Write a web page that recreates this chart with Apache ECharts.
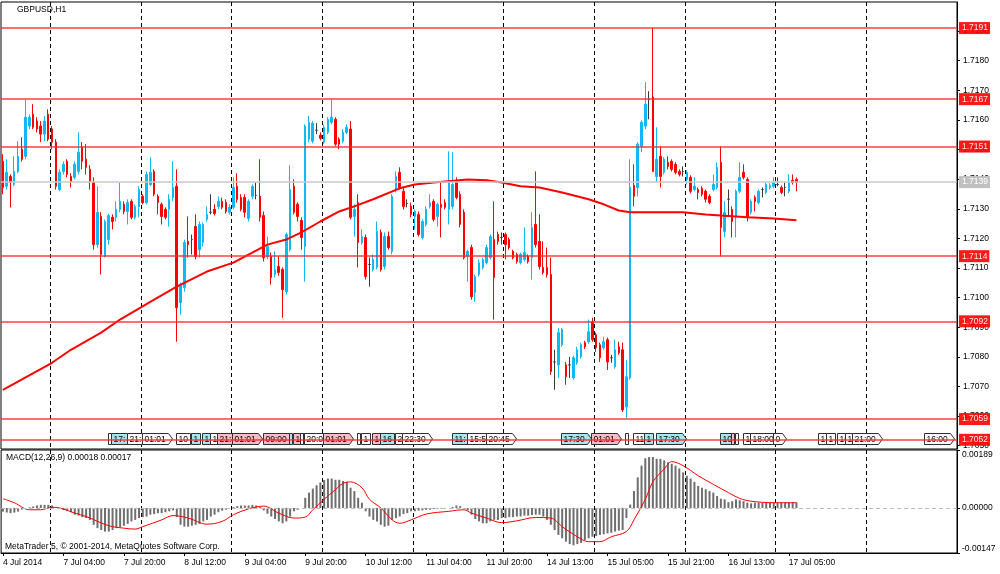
<!DOCTYPE html>
<html><head><meta charset="utf-8">
<script src="https://cdn.jsdelivr.net/npm/echarts@6/dist/echarts.min.js"></script>
<style>html,body{margin:0;padding:0;background:#fff}#c{width:1000px;height:574px}</style>
</head><body><div id="c"></div>
<script>
const FONT = 'Liberation Sans';
const chartTitle = 'GBPUSD,H1';
const macdTitle = 'MACD(12,26,9) 0.00018 0.00017';
const copyright = 'MetaTrader 5, \u00a9 2001-2014, MetaQuotes Software Corp.';

// number of bar slots on the time axis (bars + chart shift)
const slotCount = 253;

// x-axis tick labels: [bar index, text]
const dateTicks = [[0,'4 Jul 2014'],[16,'7 Jul 04:00'],[32,'7 Jul 20:00'],[48,'8 Jul 12:00'],[64,'9 Jul 04:00'],[80,'9 Jul 20:00'],[96,'10 Jul 12:00'],[112,'11 Jul 04:00'],[128,'11 Jul 20:00'],[144,'14 Jul 13:00'],[160,'15 Jul 05:00'],[176,'15 Jul 21:00'],[192,'16 Jul 13:00'],[208,'17 Jul 05:00']];

// H1 candles: [open, close, low, high]
const candles = [
[1.71460,1.71372,1.71349,1.71484],[1.71376,1.71423,1.71365,1.71467],[1.71409,1.71389,1.71305,1.71416],[1.71382,1.71426,1.71376,1.71477],
[1.71426,1.71477,1.71420,1.71528],[1.71501,1.71467,1.71460,1.71541],[1.71477,1.71609,1.71467,1.71670],[1.71579,1.71609,1.71569,1.71619],
[1.71619,1.71575,1.71569,1.71653],[1.71596,1.71569,1.71558,1.71609],[1.71579,1.71552,1.71525,1.71596],[1.71552,1.71596,1.71528,1.71613],
[1.71619,1.71535,1.71528,1.71636],[1.71569,1.71525,1.71501,1.71579],[1.71525,1.71376,1.71365,1.71535],[1.71365,1.71423,1.71359,1.71433],
[1.71426,1.71450,1.71416,1.71460],[1.71460,1.71416,1.71406,1.71467],[1.71409,1.71393,1.71372,1.71420],[1.71406,1.71450,1.71399,1.71460],
[1.71426,1.71491,1.71416,1.71558],[1.71508,1.71460,1.71433,1.71525],[1.71467,1.71440,1.71416,1.71518],[1.71433,1.71393,1.71365,1.71447],
[1.71389,1.71179,1.71162,1.71406],[1.71179,1.71288,1.71169,1.71376],[1.71274,1.71146,1.71078,1.71288],[1.71139,1.71257,1.71135,1.71264],
[1.71196,1.71277,1.71179,1.71284],[1.71271,1.71257,1.71230,1.71281],[1.71271,1.71298,1.71257,1.71325],[1.71298,1.71325,1.71288,1.71389],
[1.71315,1.71291,1.71281,1.71325],[1.71291,1.71321,1.71247,1.71332],[1.71325,1.71271,1.71264,1.71332],[1.71271,1.71308,1.71264,1.71315],
[1.71308,1.71365,1.71271,1.71376],[1.71342,1.71321,1.71315,1.71349],[1.71321,1.71416,1.71315,1.71426],[1.71382,1.71423,1.71376,1.71474],
[1.71426,1.71349,1.71342,1.71433],[1.71342,1.71321,1.71281,1.71349],[1.71315,1.71274,1.71247,1.71321],[1.71298,1.71271,1.71264,1.71305],
[1.71298,1.71332,1.71240,1.71349],[1.71338,1.71372,1.71325,1.71460],[1.71376,1.70966,1.70851,1.71433],[1.70983,1.71044,1.70942,1.71051],
[1.71034,1.71186,1.71020,1.71196],[1.71190,1.71179,1.71135,1.71274],[1.71196,1.71196,1.71146,1.71213],[1.71240,1.71139,1.71129,1.71281],
[1.71162,1.71247,1.71135,1.71257],[1.71186,1.71247,1.71173,1.71254],[1.71264,1.71281,1.71257,1.71308],[1.71288,1.71288,1.71281,1.71349],
[1.71298,1.71284,1.71277,1.71315],[1.71308,1.71325,1.71298,1.71342],[1.71325,1.71305,1.71298,1.71338],[1.71321,1.71291,1.71284,1.71332],
[1.71288,1.71305,1.71281,1.71315],[1.71305,1.71372,1.71298,1.71406],[1.71376,1.71332,1.71321,1.71420],[1.71338,1.71298,1.71291,1.71349],
[1.71338,1.71288,1.71271,1.71349],[1.71267,1.71325,1.71257,1.71332],[1.71342,1.71376,1.71332,1.71382],[1.71345,1.71345,1.71332,1.71389],
[1.71342,1.71271,1.71257,1.71467],[1.71277,1.71135,1.71122,1.71291],[1.71139,1.71173,1.71129,1.71206],[1.71139,1.71068,1.71044,1.71152],
[1.71078,1.71095,1.71068,1.71156],[1.71105,1.71085,1.71074,1.71139],[1.71095,1.71027,1.70932,1.71102],[1.71020,1.71213,1.71010,1.71220],
[1.71162,1.71365,1.71156,1.71447],[1.71376,1.71288,1.71281,1.71399],[1.71315,1.71274,1.71257,1.71321],[1.71261,1.71203,1.71162,1.71271],
[1.71173,1.71579,1.71054,1.71585],[1.71535,1.71592,1.71525,1.71613],[1.71528,1.71589,1.71521,1.71596],[1.71565,1.71565,1.71552,1.71589],
[1.71548,1.71538,1.71531,1.71558],[1.71525,1.71575,1.71518,1.71585],[1.71558,1.71602,1.71552,1.71609],[1.71592,1.71609,1.71585,1.71670],
[1.71602,1.71518,1.71511,1.71609],[1.71535,1.71518,1.71501,1.71541],[1.71528,1.71558,1.71521,1.71569],[1.71558,1.71575,1.71552,1.71585],
[1.71569,1.71271,1.71264,1.71596],[1.71274,1.71298,1.71206,1.71315],[1.71321,1.71186,1.71102,1.71349],[1.71186,1.71206,1.71179,1.71230],
[1.71203,1.71071,1.71061,1.71213],[1.71112,1.71112,1.71037,1.71135],[1.71095,1.71129,1.71088,1.71146],[1.71102,1.71223,1.71095,1.71257],
[1.71220,1.71095,1.71088,1.71230],[1.71105,1.71206,1.71095,1.71220],[1.71206,1.71169,1.71162,1.71223],[1.71156,1.71342,1.71146,1.71349],
[1.71365,1.71409,1.71355,1.71426],[1.71423,1.71372,1.71365,1.71440],[1.71359,1.71308,1.71298,1.71372],[1.71318,1.71318,1.71305,1.71332],
[1.71308,1.71281,1.71271,1.71321],[1.71274,1.71291,1.71230,1.71298],[1.71281,1.71213,1.71206,1.71291],[1.71203,1.71257,1.71196,1.71264],
[1.71247,1.71298,1.71240,1.71308],[1.71308,1.71321,1.71301,1.71349],[1.71325,1.71264,1.71257,1.71332],[1.71274,1.71315,1.71240,1.71321],
[1.71315,1.71305,1.71203,1.71393],[1.71321,1.71305,1.71298,1.71332],[1.71298,1.71393,1.71247,1.71494],[1.71308,1.71382,1.71298,1.71491],
[1.71393,1.71338,1.71332,1.71406],[1.71349,1.71247,1.71237,1.71359],[1.71288,1.71135,1.71129,1.71298],[1.71139,1.71156,1.71054,1.71162],
[1.71169,1.71003,1.70993,1.71179],[1.71017,1.71071,1.70986,1.71078],[1.71078,1.71118,1.71071,1.71129],[1.71102,1.71129,1.71095,1.71135],
[1.71118,1.71169,1.71112,1.71179],[1.71135,1.71206,1.71129,1.71213],[1.71196,1.71068,1.70926,1.71325],[1.71213,1.71190,1.71179,1.71223],
[1.71203,1.71203,1.71179,1.71220],[1.71213,1.71179,1.71129,1.71220],[1.71196,1.71169,1.71162,1.71203],[1.71156,1.71135,1.71129,1.71162],
[1.71146,1.71122,1.71115,1.71152],[1.71118,1.71146,1.71112,1.71152],[1.71129,1.71152,1.71122,1.71237],[1.71139,1.71122,1.71115,1.71146],
[1.71135,1.71237,1.71061,1.71288],[1.71247,1.71179,1.71169,1.71426],[1.71190,1.71105,1.71095,1.71281],[1.71102,1.71085,1.71078,1.71190],
[1.71102,1.71078,1.71068,1.71169],[1.71078,1.70750,1.70739,1.71135],[1.70783,1.70783,1.70689,1.70824],[1.70773,1.70882,1.70729,1.70898],
[1.70841,1.70892,1.70834,1.70898],[1.70773,1.70733,1.70706,1.70783],[1.70773,1.70773,1.70729,1.70800],[1.70729,1.70797,1.70723,1.70804],
[1.70780,1.70824,1.70773,1.70834],[1.70800,1.70841,1.70794,1.70848],[1.70848,1.70834,1.70827,1.70854],[1.70851,1.70885,1.70844,1.70926],
[1.70919,1.70858,1.70851,1.70932],[1.70875,1.70831,1.70817,1.70882],[1.70841,1.70797,1.70783,1.70848],[1.70831,1.70851,1.70824,1.70868],
[1.70858,1.70783,1.70756,1.70865],[1.70797,1.70797,1.70780,1.70807],[1.70767,1.70824,1.70760,1.70858],[1.70834,1.70814,1.70807,1.70851],
[1.70824,1.70621,1.70614,1.70848],[1.70631,1.70733,1.70594,1.70790],[1.70729,1.71372,1.70723,1.71467],[1.71379,1.71342,1.71308,1.71450],
[1.71372,1.71518,1.71342,1.71525],[1.71511,1.71592,1.71491,1.71599],[1.71579,1.71653,1.71569,1.71728],[1.71670,1.71670,1.71602,1.71697],
[1.71677,1.71426,1.71426,1.71910],[1.71409,1.71467,1.71389,1.71575],[1.71477,1.71409,1.71372,1.71511],[1.71423,1.71467,1.71416,1.71474],
[1.71457,1.71443,1.71433,1.71477],[1.71460,1.71433,1.71426,1.71467],[1.71450,1.71423,1.71416,1.71457],[1.71426,1.71416,1.71409,1.71433],
[1.71426,1.71426,1.71409,1.71443],[1.71399,1.71423,1.71382,1.71430],[1.71406,1.71359,1.71352,1.71413],[1.71365,1.71376,1.71359,1.71406],
[1.71365,1.71355,1.71332,1.71372],[1.71369,1.71349,1.71342,1.71376],[1.71359,1.71332,1.71321,1.71365],[1.71342,1.71321,1.71315,1.71349],
[1.71365,1.71382,1.71359,1.71416],[1.71372,1.71440,1.71365,1.71457],[1.71457,1.71237,1.71139,1.71511],[1.71223,1.71288,1.71203,1.71325],
[1.71332,1.71332,1.71274,1.71365],[1.71298,1.71257,1.71203,1.71308],[1.71274,1.71359,1.71203,1.71365],[1.71359,1.71406,1.71352,1.71457],
[1.71423,1.71406,1.71399,1.71450],[1.71399,1.71274,1.71257,1.71406],[1.71288,1.71325,1.71281,1.71332],[1.71338,1.71325,1.71291,1.71345],
[1.71321,1.71359,1.71315,1.71365],[1.71365,1.71365,1.71338,1.71372],[1.71355,1.71382,1.71349,1.71389],[1.71372,1.71379,1.71365,1.71386],
[1.71376,1.71389,1.71369,1.71406],[1.71382,1.71382,1.71376,1.71406],[1.71372,1.71355,1.71349,1.71379],[1.71372,1.71372,1.71342,1.71389],
[1.71359,1.71389,1.71352,1.71416],[1.71396,1.71389,1.71382,1.71416],[1.71399,1.71389,1.71359,1.71406]
];

// moving average read at points: [bar index, value]
const maPoints = [[0,1.70689],[13,1.70780],[18,1.70824],[26,1.70882],[31,1.70926],[39,1.70986],[46,1.71037],[54,1.71088],[61,1.71118],[70,1.71179],[75,1.71196],[79,1.71220],[84,1.71257],[89,1.71291],[93,1.71308],[98,1.71332],[105,1.71369],[109,1.71382],[114,1.71389],[123,1.71399],[128,1.71396],[132,1.71389],[137,1.71376],[142,1.71372],[148,1.71355],[155,1.71332],[159,1.71315],[163,1.71294],[166,1.71288],[180,1.71288],[186,1.71281],[190,1.71277],[197,1.71271],[204,1.71267],[210,1.71261]];

// horizontal levels
const levels = [1.7191, 1.7167, 1.7151, 1.7114, 1.7092, 1.7059, 1.7052];
const currentPrice = 1.7139;

// MACD main (histogram), one per bar
const macdHist = [
-0.00012,-0.00015,-0.00017,-0.00015,-0.00012,-0.00005,0.00000,0.00002,0.00005,0.00008,0.00010,0.00010,0.00010,0.00008,0.00002,-0.00003,
-0.00006,-0.00010,-0.00014,-0.00022,-0.00025,-0.00030,-0.00033,-0.00039,-0.00055,-0.00066,-0.00072,-0.00077,-0.00077,-0.00072,-0.00066,-0.00063,
-0.00058,-0.00052,-0.00044,-0.00039,-0.00033,-0.00030,-0.00028,-0.00022,-0.00020,-0.00017,-0.00017,-0.00014,-0.00011,-0.00008,-0.00030,-0.00055,
-0.00061,-0.00061,-0.00058,-0.00055,-0.00052,-0.00044,-0.00039,-0.00028,-0.00022,-0.00014,-0.00009,-0.00006,-0.00001,0.00003,0.00006,0.00008,
0.00008,0.00008,0.00010,0.00008,0.00003,-0.00008,-0.00019,-0.00028,-0.00036,-0.00044,-0.00050,-0.00044,-0.00028,-0.00011,-0.00006,0.00000,
0.00033,0.00050,0.00063,0.00074,0.00083,0.00091,0.00096,0.00096,0.00092,0.00092,0.00088,0.00085,0.00066,0.00055,0.00033,0.00017,
-0.00011,-0.00028,-0.00039,-0.00044,-0.00055,-0.00061,-0.00058,-0.00039,-0.00033,-0.00028,-0.00020,-0.00017,-0.00011,-0.00011,-0.00009,-0.00008,
-0.00006,-0.00006,-0.00003,-0.00003,-0.00002,-0.00001,0.00000,0.00003,0.00008,0.00006,0.00000,-0.00008,-0.00022,-0.00036,-0.00044,-0.00050,
-0.00050,-0.00044,-0.00039,-0.00039,-0.00033,-0.00033,-0.00030,-0.00030,-0.00028,-0.00028,-0.00025,-0.00025,-0.00023,-0.00022,-0.00022,-0.00028,
-0.00039,-0.00055,-0.00072,-0.00088,-0.00099,-0.00110,-0.00118,-0.00122,-0.00118,-0.00114,-0.00105,-0.00099,-0.00094,-0.00092,-0.00088,-0.00086,
-0.00083,-0.00081,-0.00077,-0.00074,-0.00072,-0.00033,0.00011,0.00055,0.00100,0.00138,0.00162,0.00166,0.00166,0.00160,0.00160,0.00155,
0.00149,0.00144,0.00138,0.00129,0.00116,0.00105,0.00096,0.00085,0.00072,0.00066,0.00061,0.00055,0.00050,0.00039,0.00030,0.00028,
0.00019,0.00022,0.00028,0.00025,0.00022,0.00017,0.00015,0.00017,0.00017,0.00017,0.00017,0.00017,0.00017,0.00017,0.00018,0.00018,
0.00018,0.00018,0.00018
];

// MACD signal line read at points: [bar index, value]
const signalPoints = [[0,0.00030],[3,0.00017],[7,-0.00006],[10,-0.00006],[13,0.00002],[15,0.00000],[19,-0.00017],[22,-0.00028],[28,-0.00058],[32,-0.00066],[35,-0.00069],[37,-0.00061],[42,-0.00039],[45,-0.00025],[49,-0.00033],[54,-0.00053],[58,-0.00044],[61,-0.00022],[65,-0.00003],[69,0.00006],[73,-0.00017],[77,-0.00033],[80,-0.00030],[82,-0.00006],[85,0.00028],[88,0.00060],[90,0.00080],[92,0.00085],[95,0.00066],[97,0.00028],[100,0.00000],[103,-0.00039],[105,-0.00050],[108,-0.00039],[112,-0.00020],[118,-0.00011],[122,-0.00006],[124,-0.00017],[128,-0.00033],[132,-0.00048],[136,-0.00042],[141,-0.00031],[145,-0.00033],[148,-0.00061],[152,-0.00094],[155,-0.00110],[158,-0.00110],[161,-0.00094],[165,-0.00077],[167,-0.00039],[170,0.00028],[172,0.00085],[175,0.00127],[177,0.00151],[180,0.00138],[184,0.00105],[188,0.00077],[192,0.00050],[195,0.00031],[198,0.00022],[204,0.00017],[210,0.00017]];

// calendar event labels: [bar index, text, kind, arrow]
const events = [
[28,'','w',0],[29,'17:','b',0],[33,'21:','w',0],[37,'01:01','w',1],[46,'10','w',0],[50,'1','b',0],[53,'1','b',0],[55,'1','w',0],
[57,'21:','p',0],[61,'01:01','p',1],[69,'09:00','p',1],[76,'','b',0],[77,'16','p',0],[79,'','w',0],[80,'20:0','w',0],[85,'01:01','p',1],
[94,'','w',0],[95,'1','w',0],[98,'1','p',0],[100,'16','b',0],[104,'2','w',0],[106,'22:30','w',1],[119,'11:','b',0],[123,'15:5','w',0],
[128,'20:45','w',1],[148,'17:30','b',1],[156,'01:01','p',1],[165,'','w',0],[167,'11','w',0],[170,'1','b',0],[173,'17:30','b',1],
[190,'10','b',0],[193,'','p',0],[194,'','w',0],[196,'1','w',0],[198,'18:00','w',0],[204,'0','w',1],[216,'1','w',0],[218,'1','w',0],
[221,'16','w',0],[223,'1','w',0],[225,'21:00','w',1],[244,'16:00','w',1]
];

// ---------- build ----------
const cats = Array.from({length: slotCount}, (_, i) => String(i));
const labelMap = {};
dateTicks.forEach(d => { labelMap[d[0]] = d[1]; });
function fromPoints(pts){ const a = new Array(slotCount).fill(null); pts.forEach(p => { a[p[0]] = p[1]; }); return a; }
const maData = fromPoints(maPoints);
const sigData = fromPoints(signalPoints);
const DOJI = '#3a3a3a';
const candleData = candles.map(c => c[0] === c[1]
  ? {value: c, itemStyle: {color: DOJI, color0: DOJI, borderColor: DOJI, borderColor0: DOJI}} : c);
const kindColor = {w: '#ffffff', b: '#a8e6ee', p: '#f8bcc6'};
const mctx = document.createElement('canvas').getContext('2d');
mctx.font = '8.5px "' + FONT + '"';
const sepInterval = (i) => i % 24 === 13;
const splitStyle = {show: true, interval: sepInterval, lineStyle: {color: '#000', width: 1, type: [4, 3]}};
const lblStyle = {fontFamily: FONT, fontSize: 8.5, color: '#000'};
const tagLabel = (txt, bg) => ({show: true, position: 'end', distance: 2, formatter: () => txt,
  backgroundColor: bg, color: '#fff', padding: [2, 2, 1, 3], fontFamily: FONT, fontSize: 8.5});

const levelLines = levels.map(v => ({yAxis: v, lineStyle: {color: '#ff2a2a', width: 1.5, type: 'solid', opacity: 0.9}, label: tagLabel(v.toFixed(4), '#ff0000')}));
levelLines.push({yAxis: currentPrice, lineStyle: {color: '#c8c8c8', width: 1.5, type: 'solid'}, label: tagLabel(currentPrice.toFixed(4), '#c0c0c0')});

const chart = echarts.init(document.getElementById('c'), null, {renderer: 'canvas'});
chart.setOption({
  animation: false,
  backgroundColor: '#fff',
  grid: [
    {left: 1, right: 43, top: 2, bottom: 125, show: true, borderColor: '#000', borderWidth: 1},
    {left: 1, right: 43, top: 450, bottom: 21, show: true, borderColor: '#000', borderWidth: 1}
  ],
  xAxis: [
    {type: 'category', gridIndex: 0, data: cats, boundaryGap: true, axisLine: {show: false, onZero: false}, axisTick: {show: false}, axisLabel: {show: false}, splitLine: splitStyle},
    {type: 'category', gridIndex: 1, data: cats, boundaryGap: true, position: 'bottom',
     axisLine: {show: true, onZero: false, lineStyle: {color: '#000'}},
     axisTick: {show: true, alignWithLabel: true, length: 3, interval: (i) => labelMap[i] !== undefined, lineStyle: {color: '#000'}},
     axisLabel: Object.assign({show: true, interval: (i) => labelMap[i] !== undefined, formatter: (v, i) => labelMap[i] || '', align: 'left', margin: 5}, lblStyle),
     splitLine: splitStyle}
  ],
  yAxis: [
    {type: 'value', gridIndex: 0, position: 'right', min: 1.70489, max: 1.71998, minInterval: 0.001, maxInterval: 0.001,
     axisLine: {show: true, lineStyle: {color: '#000'}}, axisTick: {show: true, length: 3, lineStyle: {color: '#000'}},
     axisLabel: Object.assign({formatter: v => v.toFixed(4), showMinLabel: false, showMaxLabel: false, margin: 6}, lblStyle),
     splitLine: {show: false}},
    {type: 'value', gridIndex: 1, position: 'right', min: -0.00147, max: 0.00189, minInterval: 0.01, maxInterval: 0.01,
     axisLine: {show: true, lineStyle: {color: '#000'}}, axisTick: {show: true, length: 3, lineStyle: {color: '#000'}},
     axisLabel: Object.assign({formatter: v => v.toFixed(5), margin: 5, verticalAlignMaxLabel: 'top', verticalAlignMinLabel: 'bottom'}, lblStyle),
     splitLine: {show: false}}
  ],
  series: [
    {type: 'candlestick', xAxisIndex: 0, yAxisIndex: 0, data: candleData, barWidth: 2, z: 2,
     itemStyle: {color: '#10b8f4', color0: '#ff0000', borderColor: '#10b8f4', borderColor0: '#ff0000', borderWidth: 1},
     markLine: {symbol: ['none', 'none'], silent: true, animation: false, precision: 4, data: levelLines}},
    {type: 'line', xAxisIndex: 0, yAxisIndex: 0, data: maData, connectNulls: true, showSymbol: false, z: 3, silent: true,
     lineStyle: {color: '#ff0000', width: 2}},
    {type: 'custom', xAxisIndex: 0, yAxisIndex: 0, z: 4, silent: true,
     data: events.map(e => [e[0], levels[levels.length - 1]]),
     encode: {x: 0, y: 1},
     renderItem: (params, api) => {
       const ev = events[params.dataIndex];
       const px = api.coord([api.value(0), api.value(1)])[0];
       const cs = params.coordSys;
       const yc = cs.y + cs.height - 10;
       const x0 = Math.round(px) - 0.5;
       const tw = ev[1] ? Math.ceil(mctx.measureText(ev[1]).width) + 4 : 3;
       const top = yc - 5.5, bot = yc + 5.5;
       const pts = ev[3] ? [[x0, top], [x0 + tw, top], [x0 + tw + 4, yc], [x0 + tw, bot], [x0, bot]]
                         : [[x0, top], [x0 + tw, top], [x0 + tw, bot], [x0, bot]];
       return {type: 'group', children: [
         {type: 'polygon', shape: {points: pts}, style: {fill: kindColor[ev[2]], stroke: '#303030', lineWidth: 1}},
         {type: 'text', style: {text: ev[1], x: x0 + 2, y: yc + 0.5, fill: '#000', font: '8.5px "' + FONT + '"', align: 'left', verticalAlign: 'middle'}}
       ]};
     }},
    {type: 'bar', xAxisIndex: 1, yAxisIndex: 1, data: macdHist, barWidth: 2, z: 2, silent: true,
     itemStyle: {color: '#6e6e6e'},
     markLine: {symbol: ['none', 'none'], silent: true, animation: false, data: [{yAxis: 0}], label: {show: false},
       lineStyle: {color: '#bdbdbd', width: 1, type: [4, 3]}}},
    {type: 'line', xAxisIndex: 1, yAxisIndex: 1, data: sigData, connectNulls: true, showSymbol: false, smooth: 0.35, z: 3, silent: true,
     lineStyle: {color: '#ff0000', width: 1}}
  ],
  graphic: [
    {type: 'text', left: 17, top: 5, style: {text: chartTitle, font: '8.5px "' + FONT + '"', fill: '#000'}},
    {type: 'text', left: 6, top: 453, style: {text: macdTitle, font: '8.5px "' + FONT + '"', fill: '#000'}},
    {type: 'text', left: 5, top: 542, style: {text: copyright, font: '8.5px "' + FONT + '"', fill: '#000'}}
  ]
});
</script></body></html>
